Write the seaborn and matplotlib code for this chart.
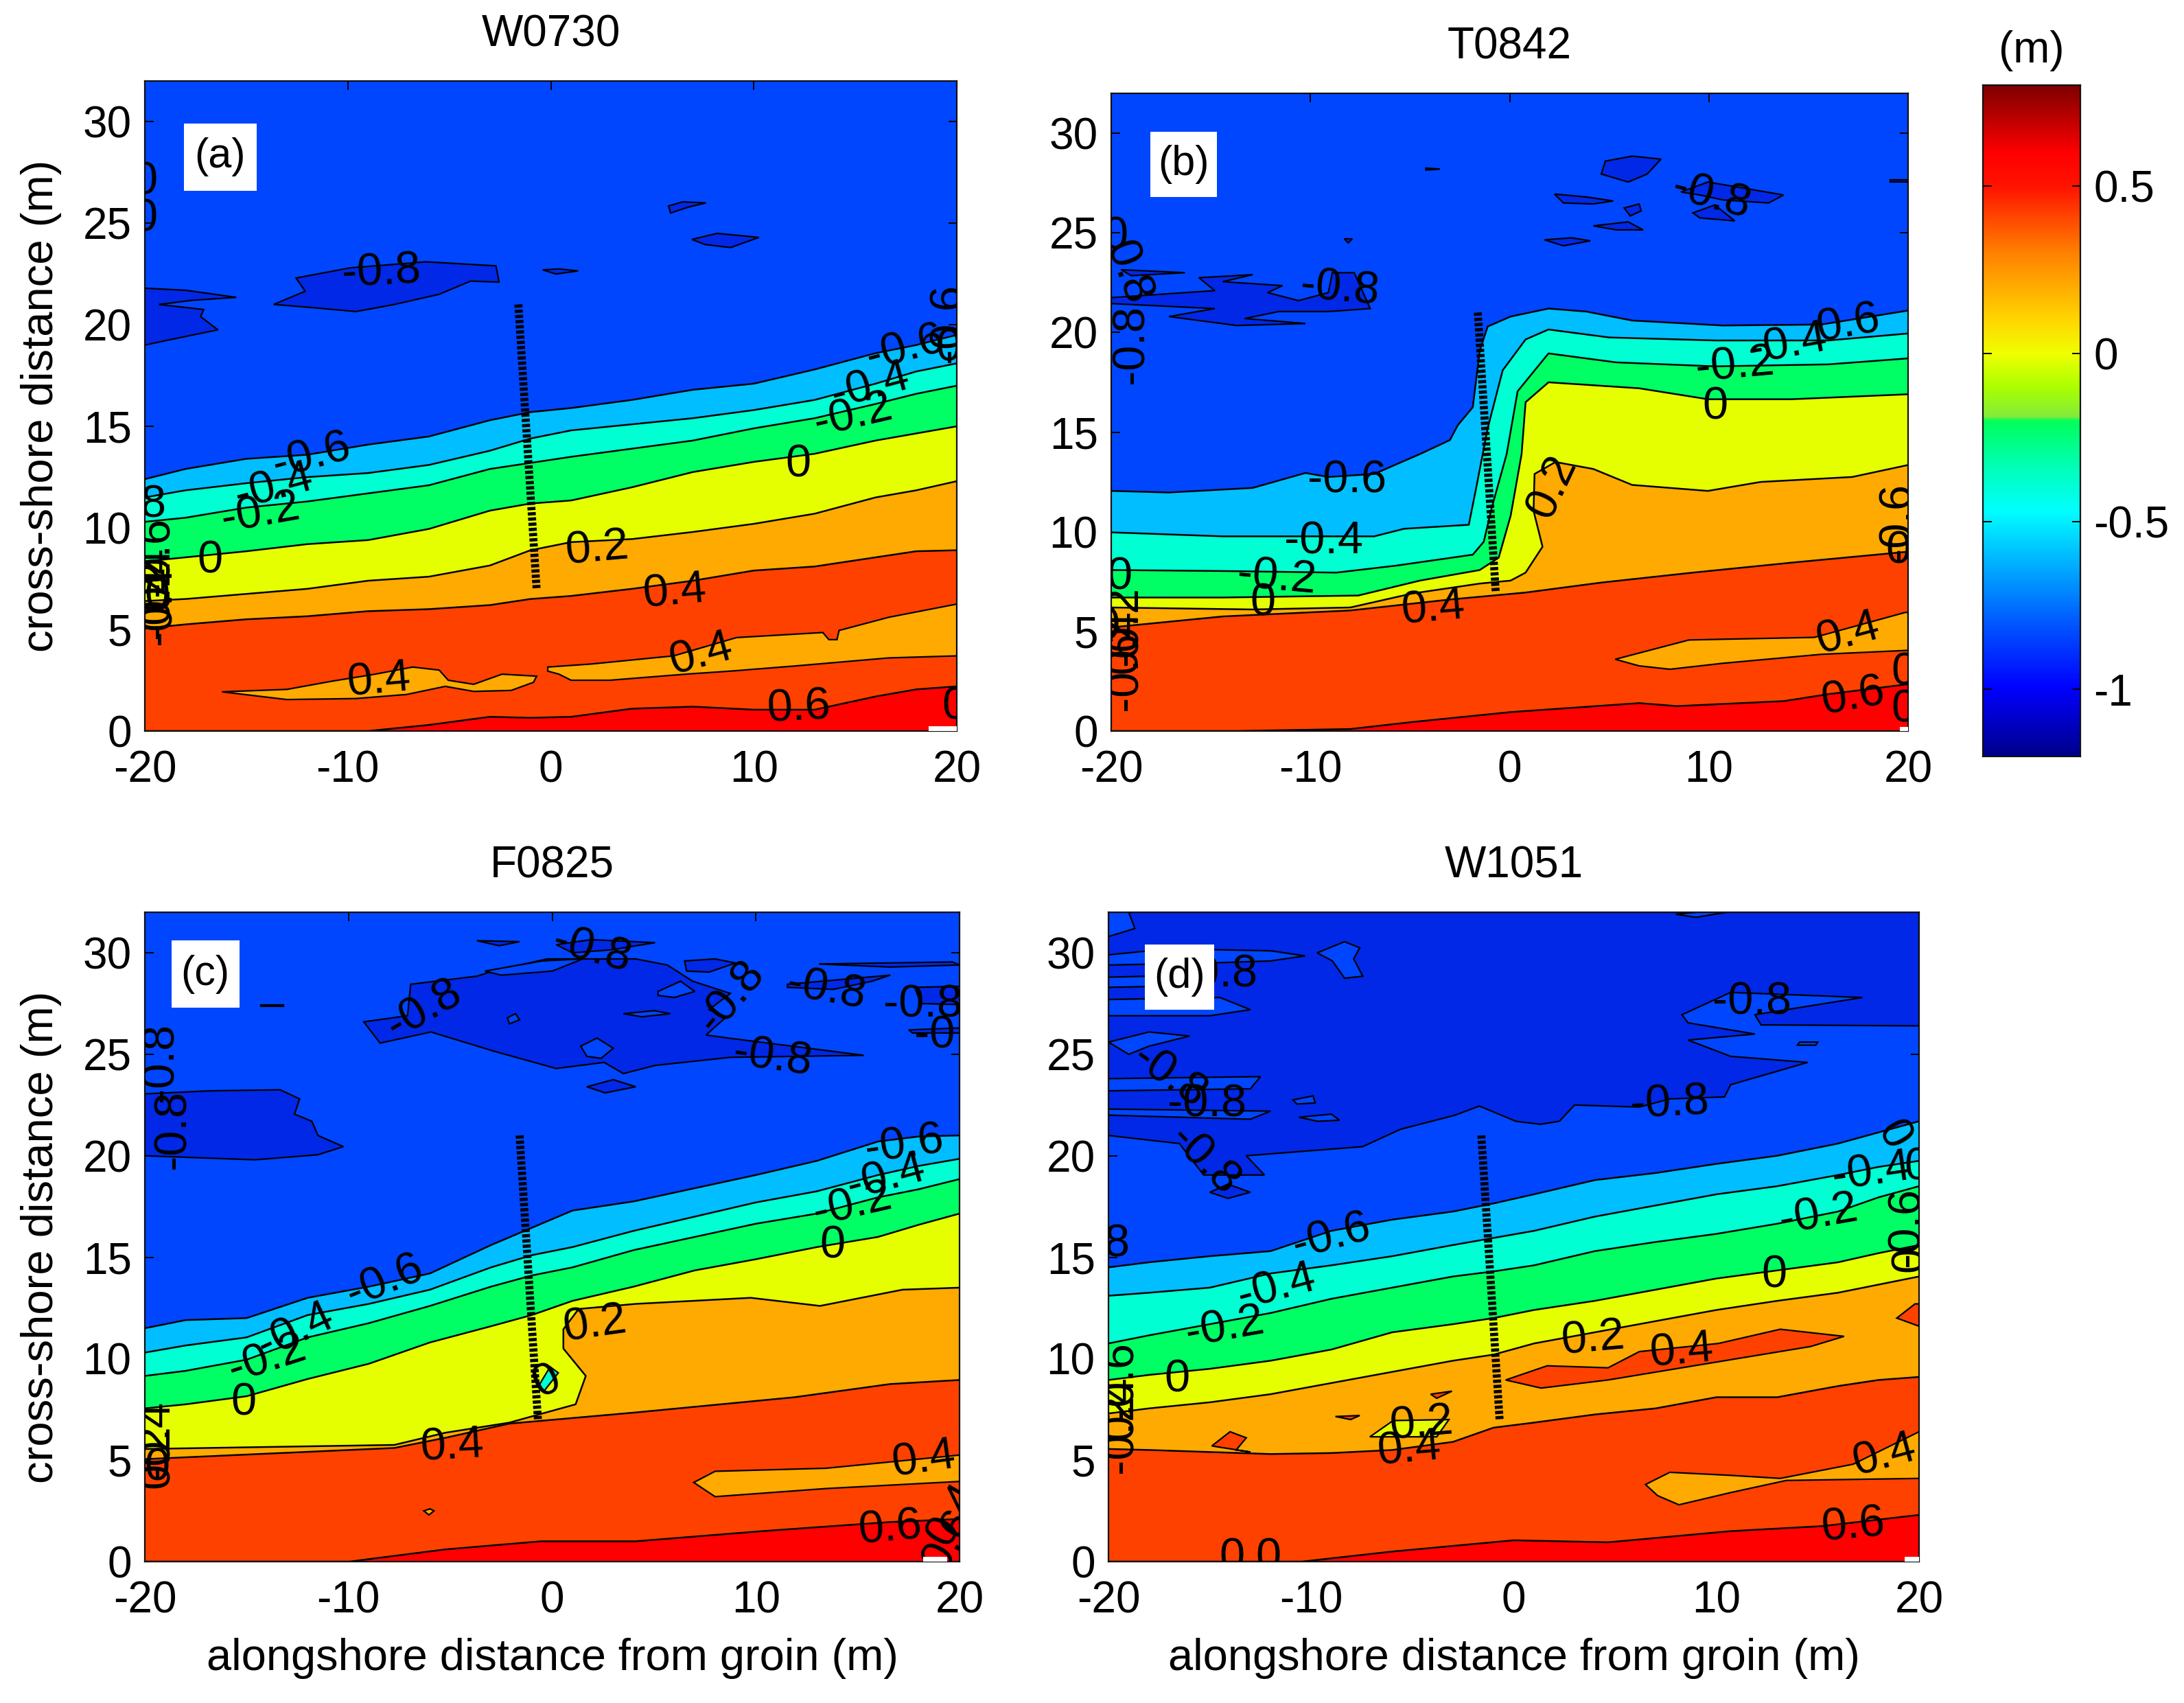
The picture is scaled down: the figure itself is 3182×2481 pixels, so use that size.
import matplotlib
matplotlib.use("Agg")
import matplotlib.pyplot as plt
import seaborn as sns
import numpy as np
from matplotlib.colors import LinearSegmentedColormap
from matplotlib.patches import Rectangle

# isolines, y (m) at each alongshore station x (m)
LEVELS = ["-0.6", "-0.4", "-0.2", "0", "0.2", "0.4", "0.6"]

A_X = [-20, -18, -15, -12, -9, -6, -3, -1, 1, 4, 7, 10, 13, 16, 18, 20]
A_M06 = [12.4, 12.9, 13.4, 13.6, 14.1, 14.5, 15.3, 15.7, 15.9, 16.3, 16.8, 17.1, 17.8, 18.6, 19.0, 19.5]
A_M04 = [11.5, 11.85, 12.2, 12.5, 12.7, 13.1, 13.8, 14.4, 14.8, 15.1, 15.4, 15.8, 16.3, 17.1, 17.7, 18.1]
A_M02 = [10.3, 10.5, 11.0, 11.3, 11.7, 12.1, 12.9, 13.2, 13.5, 13.9, 14.3, 14.9, 15.4, 16.1, 16.6, 17.0]
A_P00 = [8.35, 8.55, 8.85, 9.2, 9.4, 9.95, 10.85, 11.2, 11.35, 12.0, 12.75, 13.25, 13.65, 14.3, 14.65, 15.0]
A_P02 = [6.4, 6.5, 6.75, 7.0, 7.4, 7.6, 8.15, 8.9, 9.3, 9.45, 9.8, 10.2, 10.7, 11.5, 11.85, 12.3]
A_P04 = [5.05, 5.25, 5.5, 5.65, 5.9, 6.0, 6.2, 6.5, 6.65, 7.0, 7.4, 7.9, 8.1, 8.55, 8.85, 8.9]
A_P06 = [0, 0, 0, 0, 0, 0.3, 0.7, 0.65, 0.7, 1.1, 1.2, 1.05, 1.05, 1.7, 2.05, 2.2]

B_X_M06 = [-20, -17.1, -12.9, -10.25, -9.1, -6.8, -4.5, -3, -2.6, -1.85, -1.5, -1.1, 0.05, 1.95, 3.85, 6.15, 10.7, 15.65, 20]
B_M06 = [12.05, 11.97, 12.2, 12.95, 12.75, 12.9, 13.9, 14.6, 15.35, 16.25, 19.1, 20.3, 20.8, 21.2, 21.05, 20.6, 20.35, 20.4, 21.1]
B_X_M04 = [-20, -14.4, -6.8, -5.3, -2.05, -1.7, -1.1, -0.35, 0.8, 1.95, 5, 10.3, 16, 20]
B_M04 = [9.97, 9.77, 9.77, 10.15, 10.35, 12.1, 15.2, 18.1, 19.65, 20.15, 19.75, 19.6, 19.6, 19.95]
B_X_M02 = [-20, -14.4, -8.7, -5.7, -1.85, -1.3, -0.9, -0.15, 0.4, 1.95, 5.35, 10.3, 16, 20]
B_M02 = [8.08, 8.03, 7.95, 8.3, 8.85, 9.5, 11.2, 13.9, 17.05, 18.95, 18.5, 18.3, 18.4, 18.7]
B_X_P00 = [-20, -14.4, -7.6, -4.5, -1.5, -0.55, 0.05, 0.6, 0.8, 1.95, 6.5, 9.95, 14.15, 20]
B_P00 = [6.7, 6.7, 6.8, 7.55, 8.08, 8.7, 10.8, 13.9, 16.5, 17.5, 17.2, 16.65, 16.65, 16.9]
B_X_P02 = [-20, -12.9, -8, -4.9, -1.5, 0.05, 0.8, 1.65, 1.2, 1.25, 2.3, 4.2, 6.15, 9.95, 12.6, 17.2, 20]
B_P02 = [6.2, 6.1, 6.2, 6.9, 7.4, 7.55, 7.95, 9.25, 11.05, 12.9, 13.5, 13.15, 12.35, 12.05, 12.5, 12.75, 13.35]
B_X_P04 = [-20, -14.4, -8, -3, 0.8, 4.6, 9.2, 14.15, 20]
B_P04 = [5.2, 5.75, 6.05, 6.6, 6.95, 7.45, 7.95, 8.45, 9.0]
B_X_P06 = [-20, -13.7, -8, -4.9, 0.05, 6.5, 8.4, 13.75, 16, 20]
B_P06 = [0, 0, 0.1, 0.45, 0.95, 1.4, 1.25, 1.5, 1.85, 2.35]

C_X = [-20, -18, -15, -12, -9, -6, -3, -1, 1, 4, 7, 10, 13, 16, 18, 20]
C_M06 = [11.5, 11.9, 12.0, 13.0, 13.55, 14.2, 15.6, 16.45, 17.3, 17.75, 18.4, 19.05, 19.75, 20.7, 20.95, 21.0]
C_M04 = [10.3, 10.65, 11.05, 12.15, 12.7, 13.4, 14.5, 15.1, 15.5, 16.3, 17.0, 17.7, 18.25, 19.05, 19.5, 19.85]
C_M02 = [9.15, 9.4, 9.95, 11.05, 11.75, 12.6, 13.55, 14.1, 14.5, 15.35, 16.0, 16.65, 17.15, 17.95, 18.35, 18.85]
C_P00 = [7.55, 7.75, 8.15, 9.0, 9.75, 10.8, 11.6, 12.15, 12.85, 13.55, 14.35, 14.9, 15.5, 16.0, 16.6, 17.15]
C_X_P02 = [-20, -7.75, -5.25, -2.1, 1.15, 1.65, 0.55, 0.55, 1.3, 4.1, 9.75, 13.15, 17.2, 20]
C_P02 = [5.55, 5.75, 6.35, 6.85, 7.75, 9.15, 10.5, 11.45, 12.45, 12.7, 13.0, 12.6, 13.4, 13.5]
C_X_P04 = [-20, -7.75, -5.25, -2.1, 4.1, 11.9, 16.6, 20]
C_P04 = [5.05, 5.6, 6.1, 6.8, 7.35, 8.1, 8.75, 8.95]
C_X_P06 = [-20, -9.95, -5.25, -0.55, 4.1, 10.3, 16.6, 20]
C_P06 = [0, 0, 0.6, 1.0, 1.0, 1.5, 1.95, 2.1]

D_X = [-20, -18, -15, -12, -9, -6, -3, -1, 1, 4, 7, 10, 13, 16, 18, 20]
D_M06 = [14.5, 14.75, 15.05, 15.3, 16.3, 16.85, 17.25, 17.65, 18.1, 18.8, 19.15, 19.6, 20.0, 20.6, 21.15, 21.7]
D_M04 = [13.1, 13.25, 13.5, 14.2, 14.6, 15.05, 15.6, 15.95, 16.3, 17.0, 17.55, 18.1, 18.5, 19.05, 19.45, 19.75]
D_M02 = [10.75, 11.15, 11.7, 12.25, 12.95, 13.5, 14.05, 14.3, 14.6, 15.3, 15.75, 16.15, 16.65, 17.25, 17.95, 18.5]
D_P00 = [8.95, 9.2, 9.5, 9.9, 10.45, 11.3, 11.7, 12.0, 12.4, 12.85, 13.4, 13.95, 14.35, 14.75, 15.2, 15.6]
D_P02 = [7.3, 7.55, 7.85, 8.25, 8.8, 9.35, 9.9, 10.2, 10.75, 11.3, 11.85, 12.4, 12.85, 13.25, 13.65, 14.05]
D_P04 = [5.55, 5.5, 5.4, 5.3, 5.35, 5.5, 5.9, 6.6, 6.85, 7.25, 7.55, 8.1, 8.1, 8.65, 8.95, 9.1]
D_X_P06 = [-20, -10.45, -5.95, 0, 4.65, 10.7, 15.25, 20]
D_P06 = [0, 0, 0.5, 1.05, 0.95, 1.5, 1.75, 2.3]

# closed contours: (band name, x list, y list)
A_ISLANDS = [
    ("dark", [-13.65, -12.1, -12.55, -9.9, -6.15, -2.7, -2.55, -3.95, -5.5, -7.7, -9.6, -11.8],
     [21.0, 21.65, 22.3, 22.8, 23.1, 22.9, 22.1, 22.15, 21.5, 21.0, 20.65, 20.85]),
    ("dark", [-20, -18, -15.5, -17.7, -19.3, -17.1, -17.25, -16.4, -18.35, -20],
     [21.8, 21.7, 21.35, 21.2, 21, 20.75, 20.4, 19.75, 19.35, 19.0]),
    ("dark", [5.8, 6.5, 7.65, 6.8, 5.9], [25.85, 26.05, 26, 25.8, 25.5]),
    ("dark", [6.95, 8.2, 10.25, 8.85, 7.6], [24.2, 24.5, 24.3, 23.8, 23.95]),
    ("dark", [-0.4, 0.4, 1.35, 0.25], [22.7, 22.75, 22.65, 22.5]),
    ("orange", [-16.2, -13, -10.8, -8.65, -6.8, -5.5, -5.05, -3.8, -2.4, -0.7, -0.85, -1.95, -3.8, -5.2, -7.1, -9.6, -13],
     [1.93, 2.05, 2.45, 2.8, 3.15, 3.0, 2.5, 2.3, 2.8, 2.7, 2.4, 2.0, 1.95, 2.2, 1.8, 1.6, 1.55]),
    ("orange", [-0.15, 2, 6.05, 9.15, 13.4, 13.7, 14.1, 14.2, 16.65, 20, 20, 16.65, 12, 8.85, 6.65, 2.9, 1, 0.4, -0.15],
     [3.15, 3.3, 3.7, 4.6, 4.85, 4.5, 4.5, 4.95, 5.6, 6.25, 3.7, 3.6, 3.2, 2.95, 2.8, 2.5, 2.5, 2.8, 2.95]),
]
B_ISLANDS = [
    ("dark", [-20, -14.8, -15.6, -12.9, -14.4, -11.4, -12.15, -10.6, -9.1, -8.9, -7.8, -7, -9.1, -11.6, -13.3, -10.25, -13.7, -17.1, -14.8, -20],
     [21.75, 22.1, 22.75, 22.9, 22.55, 22.35, 22, 21.6, 22, 23, 23, 21.2, 21.05, 21.05, 20.7, 20.45, 20.35, 20.8, 21.2, 21.45]),
    ("dark", [-19.5, -16.3, -19], [23.15, 23, 22.85]),
    ("dark", [4.8, 6.15, 7.6, 6.9, 5.95, 4.6], [28.6, 28.85, 28.7, 27.95, 27.55, 27.95]),
    ("dark", [2.25, 3.85, 5.2, 4.2, 2.7], [26.95, 26.8, 26.6, 26.45, 26.5]),
    ("dark", [5.75, 6.5, 6.6, 6.05], [26.25, 26.45, 26.1, 25.85]),
    ("dark", [4.2, 5.95, 6.7, 5.35], [25.35, 25.55, 25.15, 25.15]),
    ("dark", [1.75, 3.1, 4.05, 2.7], [24.65, 24.75, 24.6, 24.35]),
    ("dark", [8.6, 9.95, 13.75, 13, 10.7, 9.55], [27.05, 27.55, 26.9, 26.5, 26.65, 26.9]),
    ("dark", [9.2, 10.3, 11.3, 9.55], [26, 26.4, 25.6, 25.75]),
    ("dark", [-4.2, -3.5, -4.2], [28.25, 28.2, 28.15]),
    ("dark", [19.1, 20, 20, 19.1], [27.65, 27.65, 27.55, 27.55]),
    ("dark", [-8.3, -7.9, -8.1], [24.7, 24.7, 24.5]),
    ("orange", [5.3, 9, 15.3, 19.85, 20, 20, 15.65, 10.7, 8.05, 6.5],
     [3.6, 4.57, 4.7, 5.95, 5.95, 4.05, 3.85, 3.4, 3.1, 3.27]),
]
C_ISLANDS = [
    ("dark", [-20, -16.8, -13.35, -12.4, -12.65, -11.8, -11.5, -10.25, -11.5, -14.6, -20],
     [23.05, 23.2, 23.25, 22.8, 22.05, 21.7, 21, 20.45, 20.05, 19.8, 20]),
    ("dark", [-9.25, -7.1, -6.95, -3.7, -2.9, -0.25, 4.1, 5.65, 6.9, 8.75, 7.7, 8.5, 7.55, 8.65, 15.3, 8.75, 5.05, 3.5, 2.55, 0.2, -2.85, -5.95, -8.45],
     [26.6, 26.9, 28.45, 28.85, 29.1, 29.7, 29.7, 29.4, 28.6, 28.0, 27.2, 26.8, 25.95, 25.8, 24.95, 24.85, 24.45, 24.05, 24.6, 24.3, 25.15, 26.1, 25.55]),
    ("blue", [1.4, 2.2, 3, 2.4, 1.7], [25.4, 25.8, 25.3, 24.8, 24.9]),
    ("blue", [5.2, 6.3, 7, 6, 5.2], [28.1, 28.6, 28.1, 27.8, 27.9]),
    ("blue", [3.5, 5, 5.8, 4.4], [27, 27.15, 27, 26.85]),
    ("blue", [-2.2, -1.8, -1.6, -2.1], [26.8, 27, 26.7, 26.5]),
    ("blue", [-3.3, -0.5, 1.5, 0, -2.5], [29.1, 29.6, 29.7, 29.1, 28.9]),
    ("dark", [6.5, 8, 9, 7.7, 6.6], [29.6, 29.7, 29.5, 29.05, 29.1]),
    ("dark", [0.2, 1.9, 5.05, 2.9, 1], [30.4, 30.65, 30.5, 30.15, 30]),
    ("dark", [-3.7, -1.6, -2.6], [30.6, 30.55, 30.35]),
    ("dark", [13.1, 19.65, 20, 16.6], [29.45, 29.55, 29.4, 29.3]),
    ("dark", [11.55, 16.6, 15.7, 13.8, 11.55], [28.45, 28.9, 28.6, 28.2, 28.3]),
    ("dark", [17.8, 20, 20, 18.1], [28.3, 28.35, 27.45, 27.5]),
    ("dark", [17.5, 20, 20, 17.7], [26.2, 26.3, 26.05, 26.05]),
    ("dark", [1.7, 3, 4.1, 2.6], [23.4, 23.75, 23.4, 23.1]),
    ("dark", [-14.3, -13.2, -13.2, -14.3], [27.45, 27.45, 27.35, 27.35]),
    ("orange", [6.95, 8, 13.45, 20, 20, 13.45, 8], [3.9, 4.45, 4.6, 5.25, 3.95, 3.6, 3.2]),
    ("orange", [-6.3, -6, -5.8, -6.05], [2.5, 2.6, 2.5, 2.3]),
    ("aqua", [-0.7, -0.1, 0.3, -0.4], [8.6, 9.6, 9.3, 8.4]),
]
D_ISLANDS = [
    ("dark", [-20, -16.5, -15.3, -12.3, -13.2, -7.45, -5.6, -2.9, -1.7, 0.1, 1.3, 2.25, 3, 6.2, 7.7, 10.4, 10.7, 14.5, 10.7, 8.6, 11.9, 8.6, 8.3, 10.7, 17.2, 11.9, 12.2, 20, 20, -20],
     [21, 20.6, 19.05, 19.05, 20, 20.45, 21.3, 22, 22.45, 21.7, 21.55, 21.7, 22.5, 22.4, 22.8, 22.9, 23.5, 24.6, 24.9, 25.7, 26, 26.55, 26.95, 28.05, 27.8, 26.95, 26.45, 26.4, 32, 32]),
    ("dark", [-15, -14.1, -13, -14.1], [18.2, 18.6, 18.2, 17.9]),
    ("blue", [-20, -17, -12, -10.3, -12, -15, -20], [29.9, 30.2, 30.1, 29.85, 29.6, 29.5, 29.4]),
    ("blue", [-20, -16, -15, -20], [28.8, 28.9, 28.4, 28.3]),
    ("blue", [-20, -14.5, -13, -15, -20], [27.7, 27.8, 27.2, 26.9, 26.9]),
    ("blue", [-20, -18, -16, -18, -19], [25.6, 26.1, 25.9, 25.4, 25]),
    ("blue", [-20, -12.5, -13, -20], [23.8, 23.9, 23.3, 23.2]),
    ("blue", [-20, -12, -13, -20], [22.3, 22.2, 21.8, 22]),
    ("blue", [-20, -19, -18.7, -20], [32, 32, 31.2, 30.8]),
    ("blue", [-9.7, -8.35, -7.6, -7.9, -7.45, -8.35, -8.95], [30, 30.55, 30.25, 29.7, 28.85, 28.75, 29.6]),
    ("blue", [-10.9, -9.9, -9.8, -10.7], [22.75, 22.95, 22.6, 22.55]),
    ("blue", [-10.6, -9, -8.6, -9.7], [21.9, 22.05, 21.75, 21.7]),
    ("blue", [14.1, 15, 14.9, 14], [25.6, 25.6, 25.45, 25.45]),
    ("blue", [8, 9, 10.5, 9], [31.9, 32, 32, 31.75]),
    ("orange", [6.5, 7.7, 10.7, 13.15, 16.75, 20, 20, 13.45, 10.7, 8.15, 7.1],
     [3.8, 4.4, 4.25, 4.1, 4.8, 6.4, 4.1, 4.0, 3.4, 2.8, 3.25]),
    ("red", [-0.4, 1.65, 4.65, 6.2, 10.1, 13.15, 16.3, 14.65, 9.8, 4.65, 1.35],
     [8.95, 9.65, 9.55, 10.35, 10.75, 11.45, 11.1, 10.6, 9.8, 8.95, 8.55]),
    ("red", [18.9, 19.8, 20, 20], [12, 12.7, 12.7, 11.6]),
    ("red", [-4.1, -3.05, -3.8], [8.25, 8.4, 8.05]),
    ("red", [-8.8, -7.6, -8.05], [7.15, 7.2, 7.0]),
    ("red", [-14.9, -14, -13.2, -13.7, -13], [5.7, 6.4, 6.1, 5.5, 5.4]),
    ("yellow", [-7.1, -5.95, -3.2, -3.8], [6.15, 6.95, 7.0, 6.15]),
]

# inline contour labels
A_LBL_TXT = ["-0.8", "-0.6", "-0.4", "-0.2", "0", "0.2", "0.4", "0.4", "0.4", "0.6", "0", "-0.2", "-0.4", "-0.6",
             "-0.8", "-0.6", "0.4", "-0.2", "0", "-0.4", "0", "0", "-0.6", "0", "0"]
A_LBL_X = [-8.35, -11.8, -13.65, -14.3, -16.8, 2.3, 6.1, 7.4, -8.45, 12.2, 12.2, 14.9, 15.75, 17.45,
           -20.9, -19.4, -19.4, -19.4, -19.4, -19.3, -20, -20, 19.6, 19.6, 19.9]
A_LBL_Y = [22.55, 13.5, 12.0, 10.7, 8.35, 8.95, 6.8, 3.75, 2.45, 1.1, 13.1, 15.5, 16.95, 18.8,
           11.1, 8.6, 7.5, 6.5, 6.6, 6.2, 27, 25.2, 20.1, 18.8, 1.15]
A_LBL_ROT = [3, 15, 15, 10, 0, 5, 5, 15, 5, 3, 0, 13, 15, 15, 0, 90, 90, 90, 0, 90, 0, 0, 90, 0, 0]

B_LBL_TXT = ["-0.8", "-0.6", "-0.4", "-0.2", "0", "0.4", "0.2", "0", "-0.2", "-0.4", "0.6", "0.4", "0.6", "-0.8",
             "-0.8", "0.8", "0", "0", "-0.6", "0.4", "-0.2", "0", "-0.6", "0", "0", "0"]
B_LBL_X = [-8.55, -8.15, -9.35, -11.7, -12.4, -3.85, 2.15, 10.3, 11.3, 13.95, 17, 17, 17.25, 10.1,
           -19, -19.2, -19.8, -19.6, -19.3, -19.3, -19.3, -20.2, 19.5, 19.5, 19.8, 19.8]
B_LBL_Y = [22.15, 12.55, 9.5, 7.65, 6.4, 6.1, 12.25, 16.25, 18.3, 19.35, 20.4, 4.85, 1.7, 26.8,
           19.4, 23, 24.8, 7.7, 3, 4.5, 5.3, 5.2, 10.5, 9, 2.9, 1.05]
B_LBL_ROT = [-5, 0, 0, -5, 0, 5, 65, 0, 5, 10, 10, 15, 10, -15, 90, -70, 0, 0, 90, 90, 90, 0, 90, 0, 0, 0]

C_LBL_TXT = ["-0.6", "-0.4", "-0.2", "0", "0.4", "0.2", "0", "0", "-0.2", "-0.4", "-0.6", "0.4", "0.6",
             "-0.8", "-0.8", "-0.8", "-0.8", "-0.8", "-0.8", "-0.8", "-0.8", "-0.8", "-0.4", "0.2", "0", "0.6", "0.4"]
C_LBL_X = [-8.2, -12.6, -14, -15.15, -4.9, 2.1, -0.25, 13.75, 14.75, 16.4, 17.3, 18.25, 16.6,
           -6.3, 1.95, 8.8, 13.45, 10.8, 18.2, 19.7, -19.2, -18.6, -19.4, -19.4, -19.4, 19.5, 19.7]
C_LBL_Y = [13.8, 11.35, 9.95, 7.8, 5.65, 11.65, 8.85, 15.55, 17.55, 18.9, 20.5, 5.0, 1.6,
           27.2, 30.1, 27.8, 28.15, 24.8, 27.4, 25.9, 24.6, 21.3, 6.0, 5.2, 4.6, 1.0, 2.3]
C_LBL_ROT = [22, 25, 18, 0, 3, 8, 25, 0, 13, 15, 8, 8, 5, 30, -15, 50, -10, -8, 0, 0, 90, 90, 90, 90, 0, 60, 60]

D_LBL_TXT = ["-0.6", "-0.4", "-0.2", "0", "0.2", "0.4", "0", "-0.2", "-0.4", "0", "0", "-0.6", "0", "0.2", "0.4", "0.4", "0.6",
             "-0.8", "-0.8", "-0.8", "-0.8", "-0.8", "-0.8", "-0.8", "-0.6", "0.4", "-0.2", "0", "0"]
D_LBL_X = [-9, -11.7, -14.25, -16.6, 3.9, 8.3, 12.85, 15.05, 17.65, 18.7, 19.9, 19.4, 19.6, -4.55, -5.15, 18.3, 16.75,
           7.7, 11.75, -15.15, -17, -15.3, -14.6, -20.9, -19.4, -19.4, -19.4, -13.9, -12.1]
D_LBL_Y = [16, 13.5, 11.5, 8.95, 10.95, 10.35, 14.1, 17.05, 19.15, 21, 19.4, 16.5, 14.9, 6.75, 5.5, 5.2, 1.75,
           22.55, 27.55, 22.5, 23.9, 19.75, 28.9, 15.6, 8.9, 7.6, 6.3, 0.15, 0.15]
D_LBL_ROT = [15, 15, 10, 0, 5, 5, 0, 10, 8, -60, 0, 90, 90, 5, 5, 15, 5, 3, 0, 0, -35, -45, 0, 0, 90, 90, 90, 0, 0]

TITLES = ["W0730", "T0842", "F0825", "W1051"]
TAGS = ["(a)", "(b)", "(c)", "(d)"]
GROIN_X = [-1.6, -0.7]
GROIN_Y = [21, 7]
XTICKS = [-20, -10, 0, 10, 20]
YTICKS = [0, 5, 10, 15, 20, 25, 30]
CBAR_TICKS = [-1, -0.5, 0, 0.5]
CBAR_TICK_LABELS = ["-1", "-0.5", "0", "0.5"]
CBAR_VALUES = [-1.2, -1.0, -0.8, -0.6, -0.47, -0.35, -0.2, -0.19, -0.1, 0.0, 0.1, 0.3, 0.5, 0.6, 0.8]
CBAR_COLORS = ["#00008c", "#0000ff", "#005aff", "#00beff", "#00ffff", "#00ffbe", "#00ff5a", "#82eb3c",
               "#aaff00", "#f0ff00", "#ffd700", "#ff8200", "#ff1400", "#ff0000", "#800000"]

# pixel boxes (left, top, right, bottom) in the 3182x2481 picture
W, H = 3182, 2481
BOXES = [(211, 118, 1394, 1065), (1619, 136, 2780, 1065), (211, 1329, 1398, 2275), (1615, 1329, 2796, 2275)]
CBAR_BOX = (2889, 124, 3031, 1102)
TAG_BOXES = [(-18.08, 26.6, 3.58, 3.3), (-18.04, 26.8, 3.34, 3.27), (-18.7, 27.3, 3.35, 3.3), (-18.2, 27.2, 3.4, 3.2)]
CORNERS = [(18.6, 1.4), (19.6, 0.4), (18.2, 1.2), (19.3, 0.7)]
BAND = {"dark": "#0028e6", "blue": "#0046ff", "lblue": "#00beff", "aqua": "#00ffd2", "green": "#00ff64",
        "yellow": "#e6ff00", "orange": "#ffaa00", "red": "#ff4100", "top": "#ff0000"}
BAND_ORDER = ["lblue", "aqua", "green", "yellow", "orange", "red", "top"]


def box_axes(fig, box):
    left, top, right, bottom = box
    return fig.add_axes([left / W, 1 - bottom / H, (right - left) / W, (bottom - top) / H])


def draw_panel(ax, lines, islands, labels, idx):
    ax.set_facecolor(BAND["blue"])
    # dark patches sit under the bands, then each band is filled from the shore up to its isoline
    for name, xs, ys in islands:
        if name in ("dark", "blue"):
            ax.fill(xs, ys, fc=BAND[name], ec="k", lw=0.8, zorder=1)
    for band, (xs, ys) in zip(BAND_ORDER, lines):
        ax.fill(list(xs) + [20, -20], list(ys) + [0, 0], fc=BAND[band], ec="none", zorder=2)
        sns.lineplot(x=list(xs), y=list(ys), color="k", lw=0.9, sort=False, estimator=None, ax=ax, zorder=2.5)
    for name, xs, ys in islands:
        if name not in ("dark", "blue"):
            ax.fill(xs, ys, fc=BAND[name], ec="k", lw=0.8, zorder=3)

    sns.lineplot(x=GROIN_X, y=GROIN_Y, color="k", lw=4.2, linestyle=(0, (0.4, 0.25)), sort=False,
                 estimator=None, ax=ax, zorder=4)

    for txt, x, y, rot in zip(*labels):
        ax.text(x, y, txt, rotation=rot, rotation_mode="anchor", ha="center", va="center", fontsize=24,
                clip_on=True, zorder=5)

    cx, w = CORNERS[idx]
    ax.add_patch(Rectangle((cx, 0), w, 0.22, fc="white", ec="none", zorder=6))
    tx, ty, tw, th = TAG_BOXES[idx]
    ax.add_patch(Rectangle((tx, ty), tw, th, fc="white", ec="none", zorder=7))
    ax.text(tx + tw / 2, ty + th / 2, TAGS[idx], ha="center", va="center", fontsize=22, zorder=8)

    ax.set_xlim(-20, 20)
    ax.set_ylim(0, 32)
    ax.set_xticks(XTICKS)
    ax.set_yticks(YTICKS)
    ax.set_title(TITLES[idx], fontsize=23, pad=18)


if __name__ == "__main__":
    sns.set_style("ticks")
    plt.rcParams["font.family"] = ["Liberation Sans", "DejaVu Sans"]
    plt.rcParams["axes.unicode_minus"] = False
    plt.rcParams["xtick.direction"] = "in"
    plt.rcParams["ytick.direction"] = "in"
    plt.rcParams["xtick.top"] = True
    plt.rcParams["ytick.right"] = True
    plt.rcParams["axes.edgecolor"] = "#111111"
    plt.rcParams["text.color"] = "black"
    plt.rcParams["axes.labelcolor"] = "black"
    plt.rcParams["xtick.color"] = "black"
    plt.rcParams["ytick.color"] = "black"

    panel_lines = [
        [(A_X, A_M06), (A_X, A_M04), (A_X, A_M02), (A_X, A_P00), (A_X, A_P02), (A_X, A_P04), (A_X, A_P06)],
        [(B_X_M06, B_M06), (B_X_M04, B_M04), (B_X_M02, B_M02), (B_X_P00, B_P00), (B_X_P02, B_P02), (B_X_P04, B_P04), (B_X_P06, B_P06)],
        [(C_X, C_M06), (C_X, C_M04), (C_X, C_M02), (C_X, C_P00), (C_X_P02, C_P02), (C_X_P04, C_P04), (C_X_P06, C_P06)],
        [(D_X, D_M06), (D_X, D_M04), (D_X, D_M02), (D_X, D_P00), (D_X, D_P02), (D_X, D_P04), (D_X_P06, D_P06)],
    ]
    panel_islands = [A_ISLANDS, B_ISLANDS, C_ISLANDS, D_ISLANDS]
    panel_labels = [
        (A_LBL_TXT, A_LBL_X, A_LBL_Y, A_LBL_ROT),
        (B_LBL_TXT, B_LBL_X, B_LBL_Y, B_LBL_ROT),
        (C_LBL_TXT, C_LBL_X, C_LBL_Y, C_LBL_ROT),
        (D_LBL_TXT, D_LBL_X, D_LBL_Y, D_LBL_ROT),
    ]

    fig = plt.figure(figsize=(15.91, 12.405), dpi=200)
    for i, box in enumerate(BOXES):
        ax = box_axes(fig, box)
        draw_panel(ax, panel_lines[i], panel_islands[i], panel_labels[i], i)
        ax.tick_params(labelsize=23, length=4.5, width=0.7)
        ax.tick_params(axis="x", pad=10)
        ax.tick_params(axis="y", pad=7)
        if i in (0, 2):
            ax.set_ylabel("cross-shore distance (m)", fontsize=23.5, labelpad=11)
        if i >= 2:
            ax.set_xlabel("alongshore distance from groin (m)", fontsize=23.4, labelpad=8.5)

    # colour bar
    cax = box_axes(fig, CBAR_BOX)
    stops = [(v - CBAR_VALUES[0]) / (CBAR_VALUES[-1] - CBAR_VALUES[0]) for v in CBAR_VALUES]
    cmap = LinearSegmentedColormap.from_list("bar", list(zip(stops, CBAR_COLORS)), N=512)
    ramp = np.linspace(CBAR_VALUES[0], CBAR_VALUES[-1], 400).reshape(-1, 1)
    cax.imshow(ramp, origin="lower", aspect="auto", cmap=cmap,
               extent=[0, 1, CBAR_VALUES[0], CBAR_VALUES[-1]])
    cax.set_xticks([])
    cax.set_yticks(CBAR_TICKS)
    cax.set_yticklabels(CBAR_TICK_LABELS)
    cax.tick_params(axis="y", labelsize=23, length=4.5, width=0.7, pad=7, left=True, right=True,
                    labelleft=False, labelright=True)
    cax.set_title("(m)", fontsize=23, pad=12)

    fig.savefig("out.png", dpi=200)
